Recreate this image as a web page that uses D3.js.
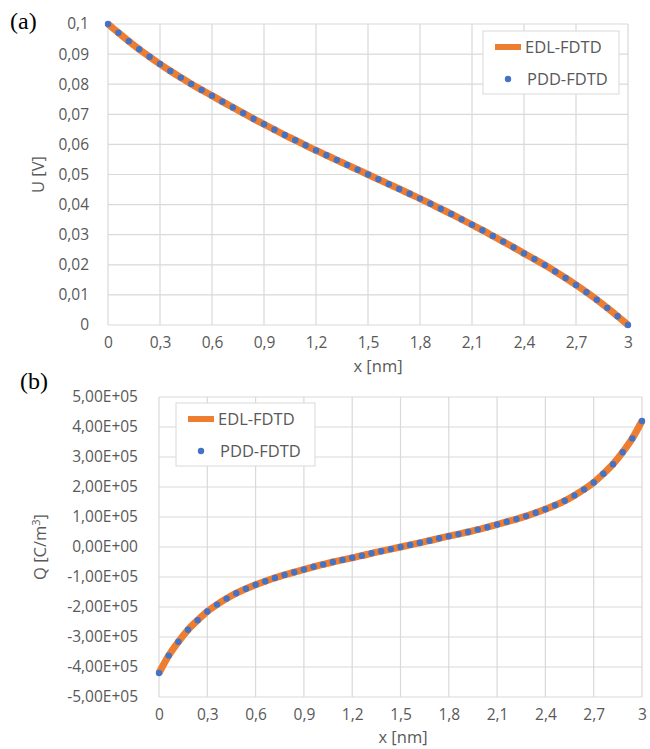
<!DOCTYPE html>
<html>
  <head>
    <meta charset="UTF-8">
    <style>
      body {
        margin: 0;
        background: white;
        font-family: "Open Sans", sans-serif;
      }

      .tick text {
        fill: #595959;
        font-size: 15.5px;
        font-family: "Open Sans", sans-serif;
      }
    </style>
    <script type="text/javascript" src="https://cdn.jsdelivr.net/npm/d3@7"></script>
  </head>

  <body>
    <svg id="Charts"></svg>

    <script type="text/javascript">
      // x positions [nm], one sample every 0.06 nm
      let xValues = [
        0, 0.06, 0.12, 0.18, 0.24, 0.3, 0.36, 0.42, 0.48, 0.54,
        0.6, 0.66, 0.72, 0.78, 0.84, 0.9, 0.96, 1.02, 1.08, 1.14,
        1.2, 1.26, 1.32, 1.38, 1.44, 1.5, 1.56, 1.62, 1.68, 1.74,
        1.8, 1.86, 1.92, 1.98, 2.04, 2.1, 2.16, 2.22, 2.28, 2.34,
        2.4, 2.46, 2.52, 2.58, 2.64, 2.7, 2.76, 2.82, 2.88, 2.94, 3
      ];

      // (a) potential U [V]
      let uValues = [
        0.1000, 0.0971, 0.0943, 0.0916, 0.0891, 0.0867, 0.0844, 0.0822, 0.0801, 0.0781,
        0.0762, 0.0742, 0.0723, 0.0704, 0.0685, 0.0667, 0.0649, 0.0631, 0.0614, 0.0597,
        0.0580, 0.0564, 0.0548, 0.0532, 0.0516, 0.0500, 0.0484, 0.0468, 0.0452, 0.0436,
        0.0420, 0.0403, 0.0386, 0.0369, 0.0351, 0.0333, 0.0315, 0.0296, 0.0277, 0.0258,
        0.0238, 0.0219, 0.0199, 0.0178, 0.0156, 0.0133, 0.0109, 0.0084, 0.0057, 0.0029, 0
      ];

      // (b) charge density Q [C/m3]
      let qValues = [
        -4.20e5, -3.62e5, -3.16e5, -2.76e5, -2.44e5, -2.15e5, -1.92e5, -1.72e5, -1.54e5, -1.39e5,
        -1.26e5, -1.14e5, -1.03e5, -0.93e5, -0.84e5, -0.75e5, -0.66e5, -0.58e5, -0.50e5, -0.43e5,
        -0.36e5, -0.29e5, -0.21e5, -0.14e5, -0.07e5, 0, 0.07e5, 0.14e5, 0.21e5, 0.29e5,
        0.36e5, 0.43e5, 0.50e5, 0.58e5, 0.66e5, 0.75e5, 0.84e5, 0.93e5, 1.03e5, 1.14e5,
        1.26e5, 1.39e5, 1.54e5, 1.72e5, 1.92e5, 2.15e5, 2.44e5, 2.76e5, 3.16e5, 3.62e5, 4.20e5
      ];

      let xTicks = [0, 0.3, 0.6, 0.9, 1.2, 1.5, 1.8, 2.1, 2.4, 2.7, 3];
      let uTicks = [0, 0.01, 0.02, 0.03, 0.04, 0.05, 0.06, 0.07, 0.08, 0.09, 0.1];
      let qTicks = [-5e5, -4e5, -3e5, -2e5, -1e5, 0, 1e5, 2e5, 3e5, 4e5, 5e5];
      let seriesNames = ['EDL-FDTD', 'PDD-FDTD'];

      let lineColor = '#ed7d31';
      let dotColor = '#4472c4';
      let gridColor = '#d9d9d9';
      let textColor = '#595959';

      let svg = d3.select('#Charts')
        .attr('width', 650)
        .attr('height', 749)

      function commaNum(d) {
        return String(+d.toFixed(3)).replace('.', ',');
      }

      function sciNum(d) {
        let e = d === 0 ? 0 : Math.floor(Math.log10(Math.abs(d)) + 1e-9);
        let m = d / Math.pow(10, e);
        let sign = e >= 0 ? '+' : '-';
        return m.toFixed(2).replace('.', ',') + 'E' + sign + String(Math.abs(e)).padStart(2, '0');
      }

      function drawChart(config) {
        let {left, right, top, bottom, yValues, yTicks, yDomain, yFormat, yPad, yTitle, yTitleX,
          xTitleX, xTitleY, tag, tagX, tagY, legend} = config;

        let xScale = d3.scaleLinear().domain([0, 3]).range([left, right]);
        let yScale = d3.scaleLinear().domain(yDomain).range([bottom, top]);

        let g = svg.append('g');

        // grid
        g.append('g').selectAll('line.h')
          .data(yTicks)
          .enter().append('line')
          .attr('x1', left).attr('x2', right)
          .attr('y1', d => yScale(d)).attr('y2', d => yScale(d))
          .attr('stroke', gridColor)
          .attr('stroke-width', 1.2)
        g.append('g').selectAll('line.v')
          .data(xTicks)
          .enter().append('line')
          .attr('x1', d => xScale(d)).attr('x2', d => xScale(d))
          .attr('y1', top).attr('y2', bottom)
          .attr('stroke', gridColor)
          .attr('stroke-width', 1.2)

        // axes (labels only)
        let axisY = d3.axisLeft(yScale)
          .tickValues(yTicks)
          .tickSize(0)
          .tickPadding(yPad)
          .tickFormat(yFormat)
        g.append('g')
          .attr('transform', `translate(${left},0)`)
          .call(axisY)
          .call(a => a.select('.domain').remove())

        let axisX = d3.axisBottom(xScale)
          .tickValues(xTicks)
          .tickSize(0)
          .tickPadding(12)
          .tickFormat(commaNum)
        g.append('g')
          .attr('transform', `translate(0,${bottom})`)
          .call(axisX)
          .call(a => a.select('.domain').remove())

        // series
        let points = xValues.map((x, i) => ({x: x, y: yValues[i]}));
        let line = d3.line()
          .x(d => xScale(d.x))
          .y(d => yScale(d.y))
          .curve(d3.curveMonotoneX)

        g.append('path')
          .datum(points)
          .attr('d', line)
          .attr('fill', 'none')
          .attr('stroke', lineColor)
          .attr('stroke-width', 7)

        g.append('g').selectAll('circle')
          .data(points)
          .enter().append('circle')
          .attr('cx', d => xScale(d.x))
          .attr('cy', d => yScale(d.y))
          .attr('r', 3.2)
          .attr('fill', dotColor)

        // titles
        g.append('text')
          .attr('transform', `translate(${yTitleX},${(top + bottom) / 2}) rotate(-90)`)
          .attr('text-anchor', 'middle')
          .attr('dy', '0.35em')
          .attr('fill', textColor)
          .style('font-size', '16.5px')
          .html(yTitle)

        g.append('text')
          .attr('x', xTitleX)
          .attr('y', xTitleY)
          .attr('text-anchor', 'middle')
          .attr('dy', '0.35em')
          .attr('fill', textColor)
          .style('font-size', '16.5px')
          .text('x [nm]')

        g.append('text')
          .attr('x', tagX)
          .attr('y', tagY)
          .attr('fill', 'black')
          .style('font-family', '"Liberation Serif", serif')
          .style('font-size', '24px')
          .text(tag)

        // legend
        let lg = g.append('g').attr('transform', `translate(${legend.x},${legend.y})`);
        lg.append('rect')
          .attr('width', legend.w).attr('height', legend.h)
          .attr('fill', 'white')
          .attr('stroke', gridColor)
        lg.append('line')
          .attr('x1', 12).attr('x2', 38)
          .attr('y1', 16).attr('y2', 16)
          .attr('stroke', lineColor)
          .attr('stroke-width', 6)
        lg.append('circle')
          .attr('cx', 25).attr('cy', 48)
          .attr('r', 3.2)
          .attr('fill', dotColor)
        lg.selectAll('text.lab')
          .data(seriesNames)
          .enter().append('text')
          .attr('x', (d, i) => i === 0 ? 42 : 44)
          .attr('y', (d, i) => 16 + i * 32)
          .attr('dy', '0.35em')
          .attr('fill', textColor)
          .style('font-size', '16.5px')
          .text(d => d)
      }

      drawChart({
        left: 108, right: 628, top: 24, bottom: 325,
        yValues: uValues, yTicks: uTicks, yDomain: [0, 0.1],
        yFormat: commaNum, yPad: 19,
        yTitle: 'U [V]', yTitleX: 38,
        xTitleX: 378, xTitleY: 366,
        tag: '(a)', tagX: 10, tagY: 29,
        legend: {x: 483, y: 31, w: 136, h: 63}
      });

      drawChart({
        left: 159, right: 642, top: 397, bottom: 697,
        yValues: qValues, yTicks: qTicks, yDomain: [-5e5, 5e5],
        yFormat: sciNum, yPad: 21,
        yTitle: 'Q [C/m<tspan dy="-6" font-size="11">3</tspan><tspan dy="6">]</tspan>', yTitleX: 40,
        xTitleX: 403, xTitleY: 737,
        tag: '(b)', tagX: 20, tagY: 389,
        legend: {x: 176, y: 403, w: 139, h: 63}
      });
    </script>
  </body>
</html>
